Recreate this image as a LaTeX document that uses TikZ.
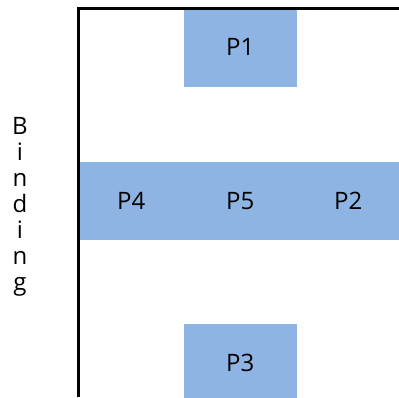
\documentclass[tikz,border=0pt]{standalone}
\usepackage{fontspec}
\setmainfont{Open Sans}
\definecolor{boxblue}{RGB}{142,180,227}
\begin{document}
\begin{tikzpicture}[x=1pt,y=-1pt,
  pbox/.style={fill=boxblue,draw=boxblue,line width=0.3pt,inner sep=0pt,anchor=north west,font=\fontsize{24}{26}\selectfont},
  axis/.style={line width=2.5pt,black}]
\useasboundingbox (0,0) rectangle (399,397);
\clip (0,0) rectangle (399,397);
\node[pbox,minimum width=112pt,minimum height=77pt] (p1) at (184,8.5) {P1};
\node[pbox,minimum width=106pt,minimum height=77.5pt] (p4) at (78,161.8) {P4};
\node[pbox,minimum width=112pt,minimum height=77.5pt] (p5) at (184,161.8) {P5};
\node[pbox,minimum width=104pt,minimum height=77.5pt] (p2) at (296,161.8) {P2};
\node[pbox,minimum width=112pt,minimum height=77pt] (p3) at (184,324) {P3};
\coordinate (tr) at (399,8.5);
\coordinate (tl) at (78.5,8.5);
\coordinate (bl) at (78.5,397);
\draw[axis] (tr) -- (tl) -- (bl);
\node[font=\fontsize{24}{26}\selectfont,align=center,inner sep=0pt] (bind) at (20,207)
  {B\\i\\n\\d\\i\\n\\g};
\end{tikzpicture}
\end{document}
